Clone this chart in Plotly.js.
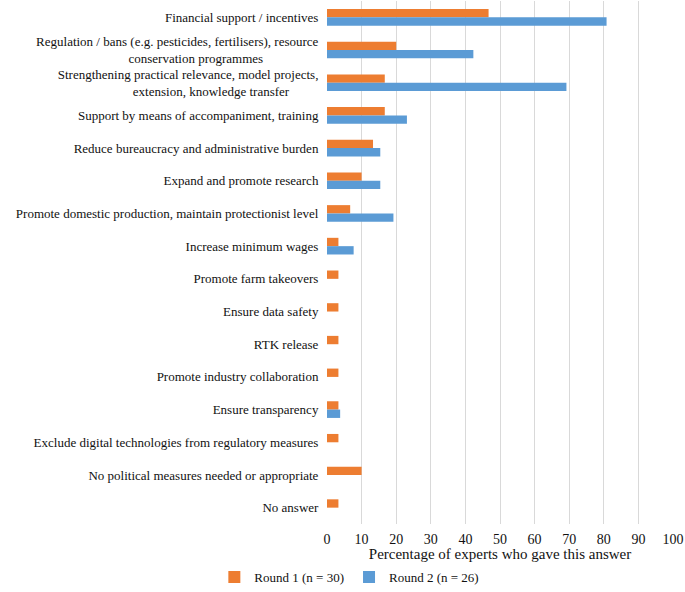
<!DOCTYPE html>
<html>
<head>
<meta charset="utf-8">
<script src="https://cdn.plot.ly/plotly-3.0.1.min.js"></script>
<style>
  body { margin: 0; }
  #chart svg text { font-family: 'Liberation Serif', 'Times New Roman', serif !important; }
</style>
</head>
<body>
<div id="chart"></div>
<script>
// answers (top to bottom), nbsp padding keeps the wrapped second lines roughly centred
const categories = [
    'Financial support / incentives',
    'Regulation / bans (e.g. pesticides, fertilisers), resource<br>conservation programmes' + '\u00A0'.repeat(17),
    'Strengthening practical relevance, model projects,<br>extension, knowledge transfer' + '\u00A0'.repeat(9),
    'Support by means of accompaniment, training',
    'Reduce bureaucracy and administrative burden',
    'Expand and promote research',
    'Promote domestic production, maintain protectionist level',
    'Increase minimum wages',
    'Promote farm takeovers',
    'Ensure data safety',
    'RTK release',
    'Promote industry collaboration',
    'Ensure transparency',
    'Exclude digital technologies from regulatory measures',
    'No political measures needed or appropriate',
    'No answer'
];

// percentage of experts
const round1 = [46.7, 20.0, 16.7, 16.7, 13.3, 10.0, 6.7, 3.3, 3.3, 3.3, 3.3, 3.3, 3.3, 3.3, 10.0, 3.3];
const round2 = [80.8, 42.3, 69.2, 23.1, 15.4, 15.4, 19.2, 7.7, 0, 0, 0, 0, 3.8, 0, 0, 0];

const xTicks = [0, 10, 20, 30, 40, 50, 60, 70, 80, 90, 100];

const trace1 = {
    type: 'bar',
    orientation: 'h',
    name: 'Round 1 (n = 30)',
    x: round1,
    y: categories,
    marker: { color: '#ED7D31' }
};

const trace2 = {
    type: 'bar',
    orientation: 'h',
    name: 'Round 2 (n = 26)',
    x: round2,
    y: categories,
    marker: { color: '#5B9BD5' }
};

const layout = {
    width: 685,
    height: 592,
    margin: { l: 327, r: 12, t: 1, b: 68 },
    font: { family: 'Liberation Serif', size: 13 },
    barmode: 'group',
    bargap: 0.49,
    bargroupgap: 0,
    xaxis: {
        range: [0, 100],
        tickvals: xTicks,
        ticktext: xTicks.map(String),
        gridcolor: '#d9d9d9',
        zeroline: false,
        ticks: 'outside',
        ticklen: 2,
        tickcolor: 'rgba(0,0,0,0)',
        tickfont: { family: 'Liberation Serif', size: 14, color: '#111' },
        title: { text: 'Percentage of experts who gave this answer', font: { family: 'Liberation Serif', size: 15, color: '#111' }, standoff: 12 }
    },
    yaxis: {
        autorange: 'reversed',
        showgrid: false,
        zeroline: false,
        ticks: 'outside',
        ticklen: 5,
        tickcolor: 'rgba(0,0,0,0)',
        tickfont: { family: 'Liberation Serif', size: 13, color: '#111' },
        automargin: false
    },
    showlegend: true,
    legend: {
        orientation: 'h',
        xref: 'container',
        yref: 'container',
        x: 0.51,
        xanchor: 'center',
        y: 0,
        yanchor: 'bottom',
        font: { family: 'Liberation Serif', size: 13, color: '#111' },
        itemwidth: 30,
        traceorder: 'normal'
    }
};

Plotly.newPlot('chart', [trace1, trace2], layout, { staticPlot: true });
</script>
</body>
</html>
